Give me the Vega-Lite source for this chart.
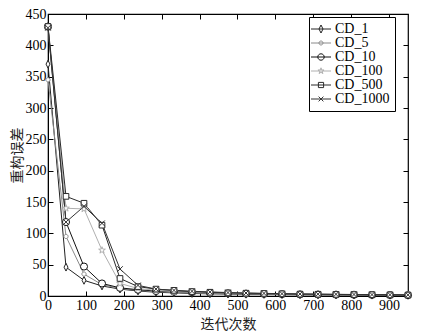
{
  "$schema": "https://vega.github.io/schema/vega-lite/v6.json",
  "autosize": {"type": "none"},
  "width": 360,
  "height": 282,
  "padding": {"left": 48, "top": 14, "right": 35, "bottom": 35},
  "background": "white",
  "config": {
    "font": "Liberation Serif",
    "view": {"stroke": "black", "strokeWidth": 1.2},
    "legend": {"labelFont": "Liberation Serif", "labelFontSize": 14, "labelColor": "black"},
    "axis": {"labelFont": "Liberation Serif", "labelFontSize": 14, "labelColor": "black", "domainColor": "black", "tickColor": "black", "grid": false, "titleFont": "Noto Sans CJK SC", "titleFontSize": 14, "titleFontWeight": "normal", "titleColor": "#222"}
  },
  "datasets": {
    "pts": [
      {"it": 0, "s": "CD_1", "e": 370}, {"it": 47.5, "s": "CD_1", "e": 46}, {"it": 95, "s": "CD_1", "e": 25}, {"it": 142.5, "s": "CD_1", "e": 16}, {"it": 190, "s": "CD_1", "e": 11}, {"it": 237.5, "s": "CD_1", "e": 8}, {"it": 285, "s": "CD_1", "e": 6}, {"it": 332.5, "s": "CD_1", "e": 5}, {"it": 380, "s": "CD_1", "e": 4}, {"it": 427.5, "s": "CD_1", "e": 3.5}, {"it": 475, "s": "CD_1", "e": 3}, {"it": 522.5, "s": "CD_1", "e": 2.8}, {"it": 570, "s": "CD_1", "e": 2.5}, {"it": 617.5, "s": "CD_1", "e": 2.2}, {"it": 665, "s": "CD_1", "e": 2}, {"it": 712.5, "s": "CD_1", "e": 1.8}, {"it": 760, "s": "CD_1", "e": 1.6}, {"it": 807.5, "s": "CD_1", "e": 1.5}, {"it": 855, "s": "CD_1", "e": 1.3}, {"it": 902.5, "s": "CD_1", "e": 1.2}, {"it": 950, "s": "CD_1", "e": 1},
      {"it": 0, "s": "CD_5", "e": 345}, {"it": 47.5, "s": "CD_5", "e": 95}, {"it": 95, "s": "CD_5", "e": 35}, {"it": 142.5, "s": "CD_5", "e": 18}, {"it": 190, "s": "CD_5", "e": 12}, {"it": 237.5, "s": "CD_5", "e": 9}, {"it": 285, "s": "CD_5", "e": 7}, {"it": 332.5, "s": "CD_5", "e": 6}, {"it": 380, "s": "CD_5", "e": 5}, {"it": 427.5, "s": "CD_5", "e": 4.2}, {"it": 475, "s": "CD_5", "e": 3.6}, {"it": 522.5, "s": "CD_5", "e": 3.2}, {"it": 570, "s": "CD_5", "e": 2.8}, {"it": 617.5, "s": "CD_5", "e": 2.5}, {"it": 665, "s": "CD_5", "e": 2.2}, {"it": 712.5, "s": "CD_5", "e": 2}, {"it": 760, "s": "CD_5", "e": 1.8}, {"it": 807.5, "s": "CD_5", "e": 1.6}, {"it": 855, "s": "CD_5", "e": 1.5}, {"it": 902.5, "s": "CD_5", "e": 1.3}, {"it": 950, "s": "CD_5", "e": 1.2},
      {"it": 0, "s": "CD_10", "e": 430}, {"it": 47.5, "s": "CD_10", "e": 118}, {"it": 95, "s": "CD_10", "e": 47}, {"it": 142.5, "s": "CD_10", "e": 20}, {"it": 190, "s": "CD_10", "e": 13}, {"it": 237.5, "s": "CD_10", "e": 10}, {"it": 285, "s": "CD_10", "e": 8}, {"it": 332.5, "s": "CD_10", "e": 7}, {"it": 380, "s": "CD_10", "e": 6}, {"it": 427.5, "s": "CD_10", "e": 5}, {"it": 475, "s": "CD_10", "e": 4.3}, {"it": 522.5, "s": "CD_10", "e": 3.8}, {"it": 570, "s": "CD_10", "e": 3.3}, {"it": 617.5, "s": "CD_10", "e": 3}, {"it": 665, "s": "CD_10", "e": 2.6}, {"it": 712.5, "s": "CD_10", "e": 2.4}, {"it": 760, "s": "CD_10", "e": 2.2}, {"it": 807.5, "s": "CD_10", "e": 2}, {"it": 855, "s": "CD_10", "e": 1.8}, {"it": 902.5, "s": "CD_10", "e": 1.6}, {"it": 950, "s": "CD_10", "e": 1.4},
      {"it": 0, "s": "CD_100", "e": 428}, {"it": 47.5, "s": "CD_100", "e": 140}, {"it": 95, "s": "CD_100", "e": 139}, {"it": 142.5, "s": "CD_100", "e": 73}, {"it": 190, "s": "CD_100", "e": 20}, {"it": 237.5, "s": "CD_100", "e": 12}, {"it": 285, "s": "CD_100", "e": 9}, {"it": 332.5, "s": "CD_100", "e": 7}, {"it": 380, "s": "CD_100", "e": 6}, {"it": 427.5, "s": "CD_100", "e": 5}, {"it": 475, "s": "CD_100", "e": 4.5}, {"it": 522.5, "s": "CD_100", "e": 4}, {"it": 570, "s": "CD_100", "e": 3.5}, {"it": 617.5, "s": "CD_100", "e": 3.1}, {"it": 665, "s": "CD_100", "e": 2.8}, {"it": 712.5, "s": "CD_100", "e": 2.5}, {"it": 760, "s": "CD_100", "e": 2.3}, {"it": 807.5, "s": "CD_100", "e": 2.1}, {"it": 855, "s": "CD_100", "e": 1.9}, {"it": 902.5, "s": "CD_100", "e": 1.7}, {"it": 950, "s": "CD_100", "e": 1.5},
      {"it": 0, "s": "CD_500", "e": 430}, {"it": 47.5, "s": "CD_500", "e": 159}, {"it": 95, "s": "CD_500", "e": 148}, {"it": 142.5, "s": "CD_500", "e": 113}, {"it": 190, "s": "CD_500", "e": 28}, {"it": 237.5, "s": "CD_500", "e": 15}, {"it": 285, "s": "CD_500", "e": 11}, {"it": 332.5, "s": "CD_500", "e": 9}, {"it": 380, "s": "CD_500", "e": 7}, {"it": 427.5, "s": "CD_500", "e": 6}, {"it": 475, "s": "CD_500", "e": 5}, {"it": 522.5, "s": "CD_500", "e": 4.5}, {"it": 570, "s": "CD_500", "e": 4}, {"it": 617.5, "s": "CD_500", "e": 3.5}, {"it": 665, "s": "CD_500", "e": 3}, {"it": 712.5, "s": "CD_500", "e": 2.8}, {"it": 760, "s": "CD_500", "e": 2.5}, {"it": 807.5, "s": "CD_500", "e": 2.2}, {"it": 855, "s": "CD_500", "e": 2}, {"it": 902.5, "s": "CD_500", "e": 1.8}, {"it": 950, "s": "CD_500", "e": 1.5},
      {"it": 0, "s": "CD_1000", "e": 428}, {"it": 47.5, "s": "CD_1000", "e": 118}, {"it": 95, "s": "CD_1000", "e": 143}, {"it": 142.5, "s": "CD_1000", "e": 116}, {"it": 190, "s": "CD_1000", "e": 43}, {"it": 237.5, "s": "CD_1000", "e": 17}, {"it": 285, "s": "CD_1000", "e": 11}, {"it": 332.5, "s": "CD_1000", "e": 9}, {"it": 380, "s": "CD_1000", "e": 7.5}, {"it": 427.5, "s": "CD_1000", "e": 6.5}, {"it": 475, "s": "CD_1000", "e": 5.5}, {"it": 522.5, "s": "CD_1000", "e": 4.8}, {"it": 570, "s": "CD_1000", "e": 4.2}, {"it": 617.5, "s": "CD_1000", "e": 3.7}, {"it": 665, "s": "CD_1000", "e": 3.3}, {"it": 712.5, "s": "CD_1000", "e": 3}, {"it": 760, "s": "CD_1000", "e": 2.7}, {"it": 807.5, "s": "CD_1000", "e": 2.4}, {"it": 855, "s": "CD_1000", "e": 2.2}, {"it": 902.5, "s": "CD_1000", "e": 2}, {"it": 950, "s": "CD_1000", "e": 1.8}
    ]
  },
  "data": {"name": "pts"},
  "layer": [
    {
      "mark": {"type": "line", "strokeWidth": 1},
      "encoding": {
        "x": {"field": "it", "type": "quantitative", "scale": {"domain": [0, 950], "nice": false}, "title": "迭代次数", "axis": {"values": [0, 100, 200, 300, 400, 500, 600, 700, 800, 900], "tickSize": -5, "labelPadding": 7, "titlePadding": 5, "labelFlush": false, "labelOverlap": false}},
        "y": {"field": "e", "type": "quantitative", "scale": {"domain": [0, 450], "nice": false}, "title": "重构误差", "axis": {"values": [0, 50, 100, 150, 200, 250, 300, 350, 400, 450], "tickSize": -5, "labelPadding": 7, "titlePadding": 1, "labelFlush": false, "labelOverlap": false}},
        "stroke": {"field": "s", "type": "nominal", "sort": ["CD_1", "CD_5", "CD_10", "CD_100", "CD_500", "CD_1000"], "title": null,
          "scale": {"domain": ["CD_1", "CD_5", "CD_10", "CD_100", "CD_500", "CD_1000"], "range": ["#222222", "#8a8a8a", "#111111", "#b0b0b0", "#2a2a2a", "#333333"]},
          "legend": {"orient": "none", "legendX": 261, "legendY": 3, "title": null, "strokeColor": "black", "fillColor": "white", "padding": 5, "rowPadding": -3, "labelFont": "Liberation Serif", "labelFontSize": 14, "labelColor": "black", "labelOffset": 7, "symbolSize": 64, "symbolStrokeWidth": 1, "symbolType": "circle",
            "encode": {"symbols": {"update": {
              "fill": {"value": "white"},
              "fillOpacity": {"value": 1},
              "opacity": {"value": 1},
              "shape": {"signal": "datum.value === 'CD_1' ? 'M-2.5,0L2.5,0M0,-1L0.5,0L0,1L-0.5,0Z' : datum.value === 'CD_5' ? 'M-2.5,0L2.5,0M0.5,0A0.5,0.5 0 1,1 -0.5,0A0.5,0.5 0 1,1 0.5,0Z' : datum.value === 'CD_10' ? 'M-2.5,0L2.5,0M0.8,0A0.8,0.8 0 1,1 -0.8,0A0.8,0.8 0 1,1 0.8,0Z' : datum.value === 'CD_100' ? 'M-2.5,0L2.5,0M0,-0.8L0.18,-0.26L0.76,-0.25L0.3,0.1L0.47,0.65L0,0.32L-0.47,0.65L-0.3,0.1L-0.76,-0.25L-0.18,-0.26Z' : datum.value === 'CD_500' ? 'M-2.5,0L2.5,0M-0.65,-0.65L0.65,-0.65L0.65,0.65L-0.65,0.65Z' : 'M-2.5,0L2.5,0M-0.6,-0.6L0.6,0.6M-0.6,0.6L0.6,-0.6'"}
            }}}
          }}
      }
    },
    {
      "mark": {"type": "point", "filled": false, "fill": "white", "fillOpacity": 1, "strokeWidth": 1, "size": 50, "opacity": 1},
      "encoding": {
        "x": {"field": "it", "type": "quantitative", "axis": {"orient": "top", "values": [0, 100, 200, 300, 400, 500, 600, 700, 800, 900], "tickSize": -5, "labels": false, "title": null, "domain": false}},
        "y": {"field": "e", "type": "quantitative", "axis": {"orient": "right", "values": [0, 50, 100, 150, 200, 250, 300, 350, 400, 450], "tickSize": -5, "labels": false, "title": null, "domain": false}},
        "stroke": {"field": "s", "type": "nominal", "sort": ["CD_1", "CD_5", "CD_10", "CD_100", "CD_500", "CD_1000"], "title": null, "legend": null},
        "shape": {"field": "s", "type": "nominal", "sort": ["CD_1", "CD_5", "CD_10", "CD_100", "CD_500", "CD_1000"], "legend": null, "scale": {"domain": ["CD_1", "CD_5", "CD_10", "CD_100", "CD_500", "CD_1000"], "range": ["M0,-1.1L0.55,0L0,1.1L-0.55,0Z", "M0.6,0A0.6,0.6 0 1,1 -0.6,0A0.6,0.6 0 1,1 0.6,0Z", "circle", "M0,-1L0.23,-0.32L0.95,-0.31L0.37,0.12L0.59,0.81L0,0.4L-0.59,0.81L-0.37,0.12L-0.95,-0.31L-0.23,-0.32Z", "M-0.8,-0.8L0.8,-0.8L0.8,0.8L-0.8,0.8Z", "M-0.8,-0.8L0.8,0.8M-0.8,0.8L0.8,-0.8"]}}
      }
    }
  ],
  "resolve": {"axis": {"x": "independent", "y": "independent"}, "legend": {"stroke": "independent"}}
}
